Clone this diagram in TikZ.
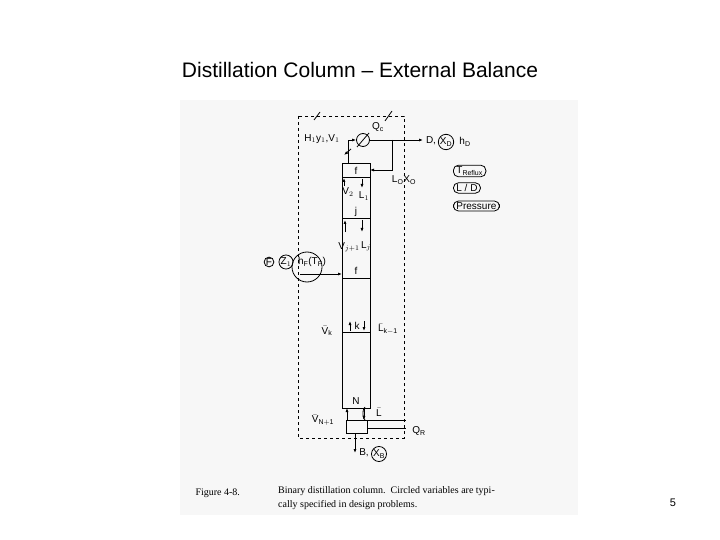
\documentclass[tikz,border=0pt]{standalone}
\usepackage{fontspec}
\setmainfont{Liberation Sans}
\newfontfamily\capfont{Liberation Serif}
\usetikzlibrary{arrows.meta}
\begin{document}
\begin{tikzpicture}[x=1pt,y=1pt,yscale=-1,
  ln/.style={line width=0.8pt},
  arr/.style={ln,-{Latex[length=4pt,width=3pt]}},
  lab/.style={font=\fontsize{10}{11}\selectfont,inner sep=0.5pt},
  circ/.style={draw,circle,ln,inner sep=0.2pt,font=\fontsize{10}{11}\selectfont},
  rbox/.style={draw,rounded corners=5pt,ln,inner xsep=3pt,inner ysep=1.5pt,font=\fontsize{10}{11}\selectfont}]
\useasboundingbox (0,0) rectangle (720,540);
\fill[gray!6] (180,100) rectangle (578,515);
\node[font=\fontsize{21}{24}\selectfont] (title) at (360,70) {Distillation Column -- External Balance};
\node[font=\fontsize{11}{12}\selectfont] (pg) at (673,503) {5};
% dashed envelope
\draw[ln,dashed] (298,116) rectangle (404,438);
\draw[ln] (314,120) -- (320,112);
\draw[ln] (385,121) -- (392,111);
% column
\draw[ln] (342,163) rectangle (370,408);
\foreach \yy in {177,218,278,332} \draw[ln] (342,\yy) -- (370,\yy);
\node[lab] (f1) at (356,171) {f};
\node[lab] (j) at (356,212) {j};
\node[lab] (f2) at (356,271) {f};
\node[lab] (k) at (357,326) {k};
\node[lab] (N) at (356,401) {N};
\node[lab] (v2) at (348,192) {V$_2$};
\node[lab] (l1) at (364,196) {L$_1$};
\node[lab] (vj) at (349,247) {V$_{j+1}$};
\node[lab] (lj) at (366,246) {L$_j$};
\node[lab] (vk) at (327,331) {$\bar{\mathrm{V}}_\mathrm{k}$};
\node[lab] (lk) at (388,329) {$\bar{\mathrm{L}}_\mathrm{k-1}$};
\node[lab] (vn) at (323,420) {$\bar{\mathrm{V}}_\mathrm{N+1}$};
\node[lab] (lb) at (379,412) {$\bar{\mathrm{L}}$};
\draw[arr] (344,186) -- (344,178);
\draw[arr] (362,179) -- (362,188);
\draw[arr] (345,232) -- (345,220);
\draw[arr] (362,220) -- (362,232);
\draw[arr] (350,331) -- (350,321);
\draw[arr] (364,321) -- (364,331);
% condenser
\node[draw,circle,ln,minimum size=13pt,inner sep=0] (cond) at (363,140) {};
\draw[ln] (357,147) -- (369,133);
\draw[arr] (348,163) -- (348,140) -- (cond.west);
\draw[arr] (351,149) -- (344,155);
\node[lab] (h1) at (322,139) {H$_1$y$_1$,V$_1$};
\node[lab] (qc) at (378,127) {Q$_\mathrm{c}$};
\coordinate (dout) at (423,140);
\draw[arr] (cond.east) -- (dout);
\draw[arr] (392,140) -- (392,170) -- (370,170);
\node[lab] (l0) at (404,180) {L$_\mathrm{O}$X$_\mathrm{O}$};
\node[lab] (D) at (431,141) {D,};
\node[circ] (xd) at (446,142) {X$_\mathrm{D}$};
\node[lab] (hd) at (465,142) {h$_\mathrm{D}$};
% specified
\node[rbox,anchor=west] (tr) at (453,171) {T$_\mathrm{Reflux}$};
\node[rbox,anchor=west] (ld) at (453,188) {L / D};
\node[rbox,anchor=west] (pr) at (453,206) {Pressure};
% feed
\node[circ] (F) at (269,262) {F};
\node[circ] (z) at (286,262) {Z$_1$};
\node[draw,circle,ln,minimum size=30pt,inner sep=0] (hf) at (307,267) {};
\node[lab] (hft) at (312,262) {h$_\mathrm{F}$(T$_\mathrm{F}$)};
\coordinate (fin) at (300,274);
\draw[arr] (fin) -- (342,274);
% reboiler
\draw[arr] (347,420) -- (347,408);
\draw[arr] (364,408) -- (364,420);
\node[draw,ln,minimum width=21pt,minimum height=13pt,inner sep=0] (reb) at (356.5,426.5) {};
\draw[ln] (365,420) arc (90:270:2 and 6.5);
\draw[ln] (367,420) -- (406,420);
\draw[ln] (367,428) -- (406,428);
\node[lab] (qr) at (419,431) {Q$_\mathrm{R}$};
\coordinate (bout) at (355,453);
\draw[arr] (355,433) -- (bout);
\node[lab] (B) at (364,453) {B,};
\node[circ] (xb) at (379,454) {X$_\mathrm{B}$};
% caption
\node[anchor=west,font=\capfont\fontsize{10}{13}\selectfont] (fig) at (192,493) {Figure 4-8.};
\node[anchor=north west,align=left,font=\capfont\fontsize{10}{14}\selectfont,inner sep=0] (cap) at (278,486) {Binary distillation column.\ \ Circled variables are typi-\\cally specified in design problems.};
\end{tikzpicture}
\end{document}
